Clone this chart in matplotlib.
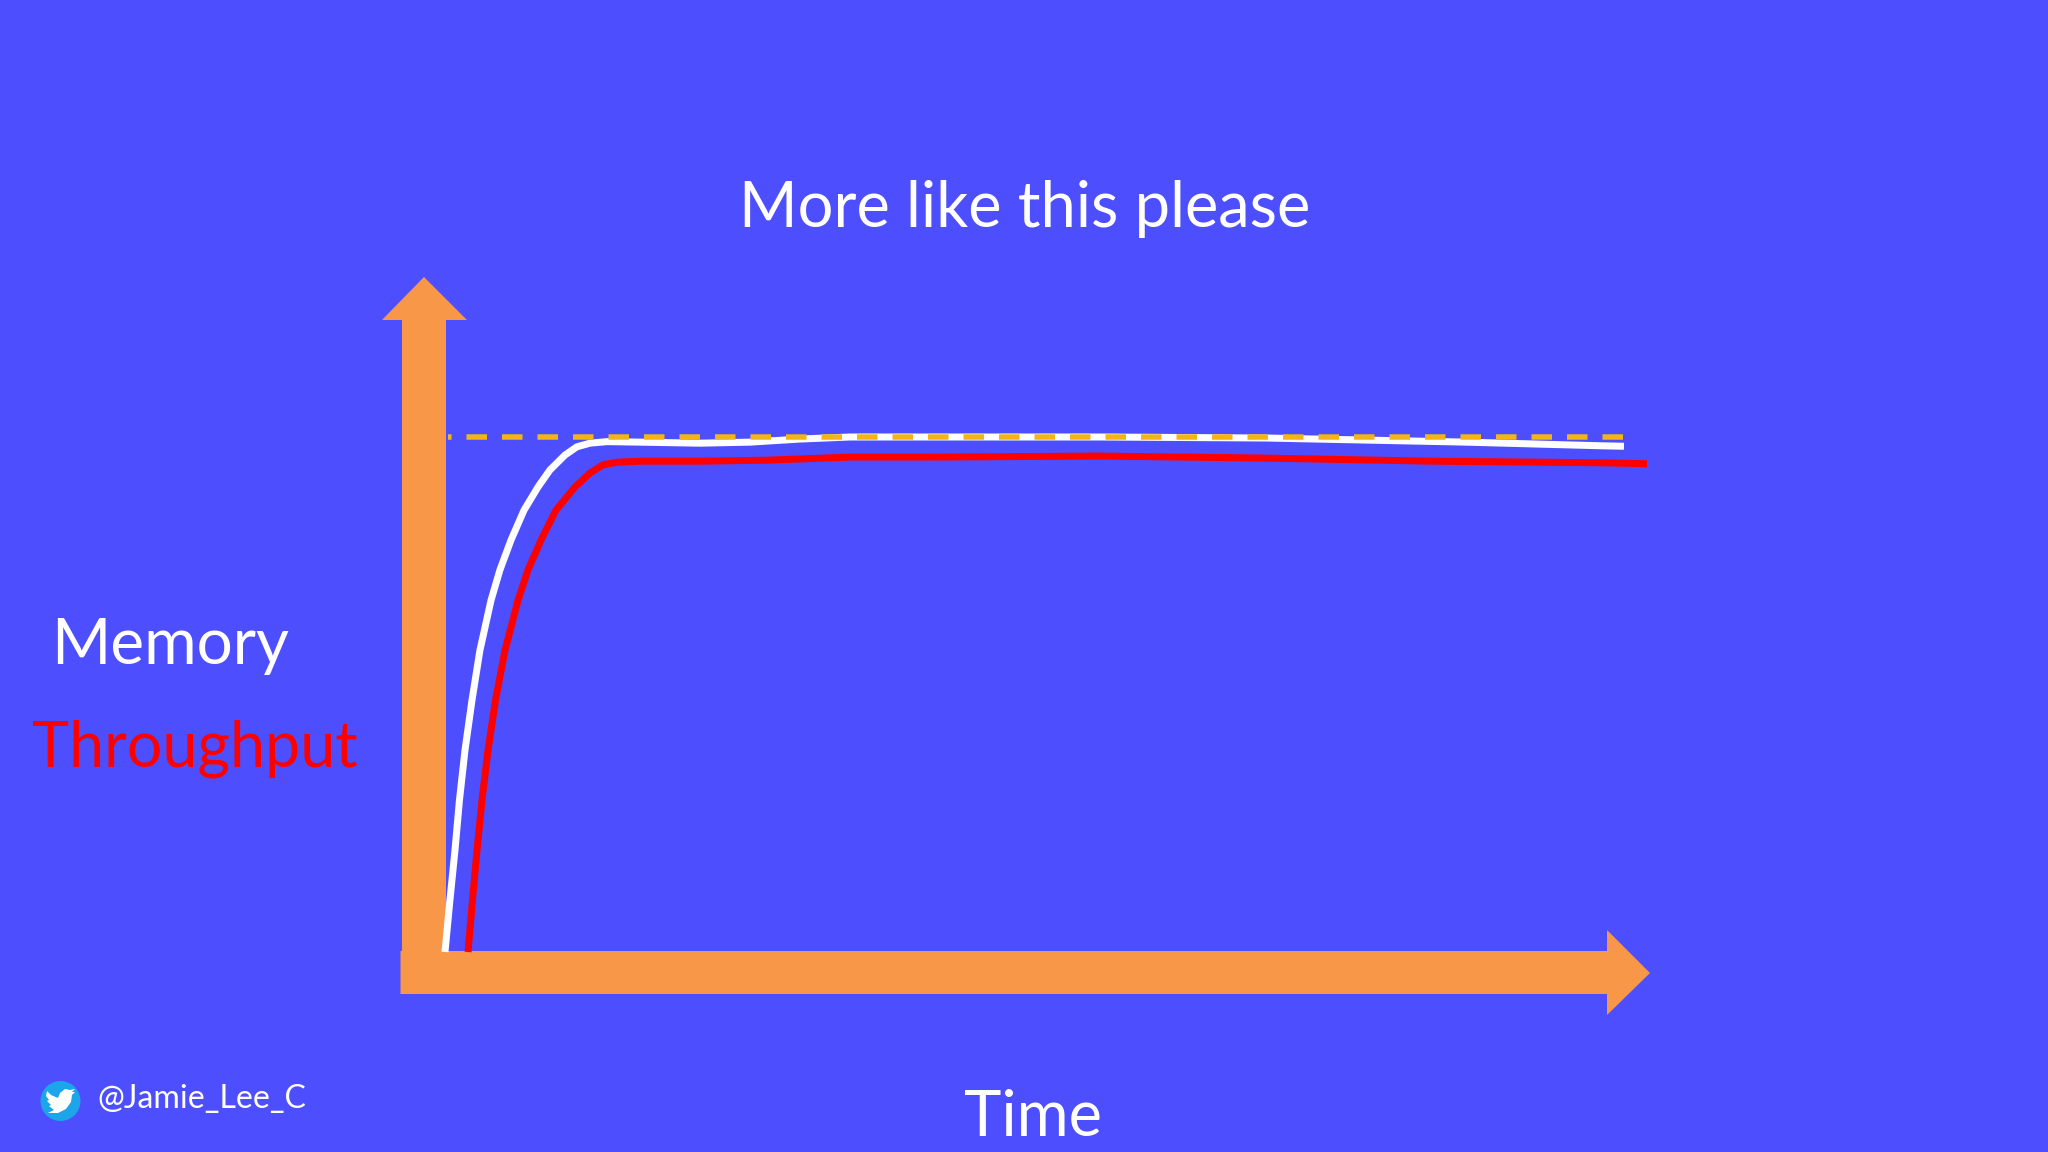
import matplotlib
matplotlib.use("Agg")
import matplotlib.pyplot as plt
from matplotlib.patches import Polygon, Circle

# Values: time and level as % of the plot range
memory_time = [0, 0.41, 0.83, 1.2, 1.66, 2.24, 2.90, 3.82, 4.56, 5.48, 6.56, 7.72, 8.71, 9.96, 10.95, 12.03, 13.44,
               16.18, 21.16, 25.31, 29.46, 33.61, 40.5, 54.36, 68.2, 76.5, 84.8, 95.85, 97.84]
memory_value = [0, 10.1, 19.8, 29.5, 39.2, 48.9, 58.6, 68.3, 74.2, 80.0, 85.8, 90.3, 93.6, 96.5, 98.1, 98.8, 99.1,
                99.0, 98.8, 99.0, 99.6, 100, 100, 100, 99.8, 99.4, 99.0, 98.3, 98.2]
throughput_time = [1.91, 2.28, 2.66, 3.07, 3.57, 4.19, 4.98, 6.06, 6.89, 7.97, 9.21, 10.79, 12.03, 13.11, 14.27,
                   16.18, 21.16, 26.72, 33.61, 40.5, 54.36, 68.2, 82.0, 95.85, 99.75]
throughput_value = [0, 10.1, 19.8, 29.5, 39.2, 48.9, 58.6, 68.3, 74.2, 80.0, 85.8, 90.3, 93.0, 94.6, 95.1,
                    95.3, 95.3, 95.5, 96.1, 96.1, 96.3, 95.9, 95.3, 95.0, 94.8]
limit_time = [0.25, 97.8]
limit_value = [100, 100]

BG = "#4D4FFF"
ORANGE = "#F89747"
W, H = 2048, 1152
PX = 72 / 100  # points per pixel at dpi 100

plt.rcParams["font.family"] = ["Lato", "DejaVu Sans"]
plt.rcParams["lines.scale_dashes"] = False

fig = plt.figure(figsize=(W / 100, H / 100), dpi=100, facecolor=BG)

# Full-slide layer for arrows, icon and text
bg = fig.add_axes([0, 0, 1, 1])
bg.set_xlim(0, W)
bg.set_ylim(H, 0)
bg.axis("off")

bg.add_patch(Polygon([(402, 960), (402, 320), (382, 320), (424, 277), (467, 320), (446, 320), (446, 960)],
                     closed=True, fc=ORANGE, ec="none", zorder=1))
bg.add_patch(Polygon([(400.5, 951), (1607, 951), (1607, 930), (1650, 973), (1607, 1015), (1607, 994), (400.5, 994)],
                     closed=True, fc=ORANGE, ec="none", zorder=1))

# Twitter badge
bg.add_patch(Circle((60.5, 1101), 20, fc="#1CA5E8", ec="none"))
bird = [(47, 1091), (51, 1095), (58, 1098), (60, 1093), (65, 1089), (70, 1090), (75, 1089), (72, 1092),
        (75, 1092), (72, 1095), (71, 1102), (66, 1109), (58, 1113), (48, 1113), (54, 1110), (49, 1106),
        (51, 1105), (47, 1101), (49, 1100), (46, 1096)]
bg.add_patch(Polygon(bird, closed=True, fc="white", ec="none"))

bg.text(1025, 227, "More like this please", color="white", fontsize=45.5, ha="center", va="baseline")
bg.text(170, 664, "Memory", color="white", fontsize=46, ha="center", va="baseline")
bg.text(195, 767, "Throughput", color="#FF0000", fontsize=45.2, ha="center", va="baseline")
bg.text(1033, 1136, "Time", color="white", fontsize=45.5, ha="center", va="baseline")
bg.text(97.5, 1108, "@Jamie_Lee_C", color="white", fontsize=23.1, ha="left", va="baseline")

# Plot layer: data coordinates are % of time and of the limit level
ax = fig.add_axes([445 / W, (H - 952) / H, 1205 / W, 515 / H])
ax.set_xlim(0, 100)
ax.set_ylim(0, 100)
ax.axis("off")
ax.patch.set_alpha(0)

ax.plot(throughput_time, throughput_value, color="#FF0000", lw=7 * PX, clip_on=False,
        solid_capstyle="butt", solid_joinstyle="round", zorder=3)
ax.plot(memory_time, memory_value, color="white", lw=7 * PX, clip_on=False,
        solid_capstyle="butt", solid_joinstyle="round", zorder=4)
ax.plot(limit_time, limit_value, color="#F5B316", lw=5.5 * PX, clip_on=False,
        dash_capstyle="butt", linestyle=(17 * PX, (20.5 * PX, 15 * PX)), zorder=5)

fig.savefig("out.png", dpi=100, facecolor=BG)
